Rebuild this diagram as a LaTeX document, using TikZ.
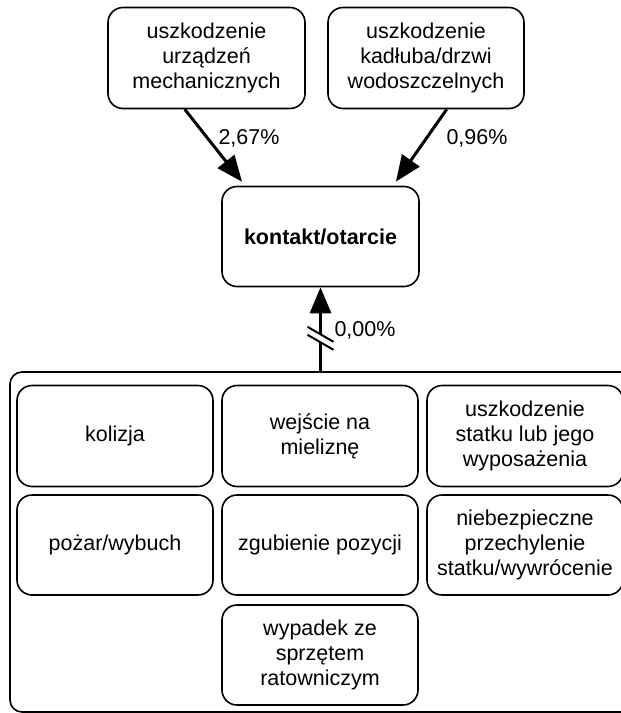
\documentclass[tikz,border=0pt]{standalone}
\usepackage{fontspec}
\setmainfont{Liberation Sans}
\usetikzlibrary{arrows.meta,calc}

\begin{document}
\begin{tikzpicture}[x=1pt,y=-1pt,
  txt/.style={font=\fontsize{21.5}{25}\selectfont},
  box/.style={txt, draw, line width=1.6pt, rounded corners=15pt, align=center,
    inner sep=0pt, minimum width=196pt, minimum height=101pt},
  group/.style={draw, line width=1.6pt, rounded corners=12pt, inner sep=0pt},
  conn/.style={line width=3pt, -{Triangle[length=26pt,width=21pt]}},
  pct/.style={txt, inner sep=0pt},
  breakmark/.style={line width=2pt}]

\useasboundingbox (0,0) rectangle (621,713);
\clip (0,0) rectangle (621,713);

% causes above
\node[box, minimum width=197pt] (b1) at (206.5,58) {uszkodzenie\\urządzeń\\mechanicznych};
\node[box] (b2) at (426,58) {uszkodzenie\\kadłuba/drzwi\\wodoszczelnych};

% central event
\node[box, minimum width=197pt, minimum height=100pt] (kontakt) at (320.5,236.5)
  {\bfseries kontakt/otarcie};

% group of other events
\node[group, minimum width=630pt, minimum height=340pt] (grp) at (325,542) {};

\node[box] (kol) at (115,436) {kolizja};
\node[box] (miel) at (320,436) {wejście na\\mieliznę};
\node[box] (usz) at (525,436) {uszkodzenie\\statku lub jego\\wyposażenia};
\node[box, minimum height=100pt] (poz) at (115,545) {pożar/wybuch};
\node[box, minimum height=100pt] (zgub) at (320,545) {zgubienie pozycji};
\node[box, minimum height=100pt] (przech) at (525,545) {niebezpieczne\\przechylenie\\statku/wywrócenie};
\node[box, minimum height=100pt] (wyp) at (320,655) {wypadek ze\\sprzętem\\ratowniczym};

% connectors
\draw[conn, shorten >=5pt] (b1.247.7) -- (kontakt.146.8);
\draw[conn, shorten >=5pt] (b2.292.4) -- (kontakt.35.7);
\draw[conn] (grp.north -| kontakt.south) coordinate (gtop) -- (kontakt.south);

% break symbol on the lower connector
\coordinate (brk) at ($(kontakt.south)!0.608!(gtop)$);
\draw[white, line width=6pt] ($(brk)+(-15,-9)$) -- ($(brk)+(15,9)$);
\draw[breakmark] ($(brk)+(-13,-11.5)$) -- ($(brk)+(13,3.5)$);
\draw[breakmark] ($(brk)+(-13,-3.5)$) -- ($(brk)+(13,11.5)$);

% percentages
\node[pct] (p1) at (249,138) {2,67\%};
\node[pct] (p2) at (477,138) {0,96\%};
\node[pct] (p3) at (365,330) {0,00\%};

\end{tikzpicture}
\end{document}
